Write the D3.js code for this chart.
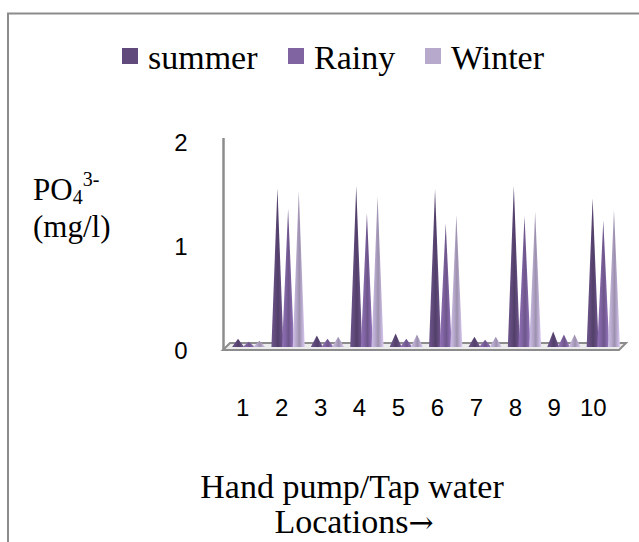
<!DOCTYPE html>
<html>
<head>
<meta charset="utf-8">
<script src="https://cdn.jsdelivr.net/npm/d3@7"></script>
<style>
  html, body { margin: 0; padding: 0; background: #fff; }
  svg { display: block; }
</style>
</head>
<body>
<svg id="chart" width="639" height="542"></svg>
<script>
// ---- data ----
const locations = ["1", "2", "3", "4", "5", "6", "7", "8", "9", "10"];
const seriesNames = ["summer", "Rainy", "Winter"];
const summer = [0.07, 1.52, 0.10, 1.54, 0.12, 1.51, 0.09, 1.54, 0.14, 1.42];
const rainy  = [0.04, 1.32, 0.07, 1.28, 0.07, 1.18, 0.06, 1.25, 0.11, 1.21];
const winter = [0.05, 1.49, 0.09, 1.44, 0.11, 1.26, 0.09, 1.29, 0.11, 1.31];
const yTicks = [0, 1, 2];
const seriesColors = ["#604a7b", "#8064a2", "#b7a9cc"];

const values = [summer, rainy, winter];

const svg = d3.select("#chart");

// ---- scales ----
const x = d3.scaleBand().domain(locations).range([229, 623]).padding(0);
const inner = d3.scaleBand().domain(seriesNames).range([-16, 16]).padding(0);
const y = d3.scaleLinear().domain([0, 2]).range([350, 142]);
const depthDy = -4;   // cones sit slightly behind the front edge

// ---- frame ----
svg.append("path")
  .attr("d", "M8,542 L8,13.5 L639,13.5")
  .attr("fill", "none").attr("stroke", "#8c8c8c").attr("stroke-width", 2);

// ---- gradients ----
const defs = svg.append("defs");
seriesColors.forEach((c, i) => {
  const base = d3.color(c);
  const g = defs.append("linearGradient").attr("id", "g" + i)
    .attr("x1", "0").attr("x2", "1").attr("y1", "0").attr("y2", "0");
  g.append("stop").attr("offset", "0%").attr("stop-color", base.brighter(0.35));
  g.append("stop").attr("offset", "30%").attr("stop-color", base.formatHex());
  g.append("stop").attr("offset", "55%").attr("stop-color", base.darker(0.45));
  g.append("stop").attr("offset", "100%").attr("stop-color", base.brighter(0.5));
});

// ---- wall & floor ----
svg.append("line")
  .attr("x1", 223.5).attr("x2", 223.5).attr("y1", 138).attr("y2", 350)
  .attr("stroke", "#8c8c8c").attr("stroke-width", 2.5);
svg.append("path")
  .attr("d", "M223,350 L230,343 L626,343 L619,350 Z")
  .attr("fill", "#ececec").attr("stroke", "#8c8c8c").attr("stroke-width", 2);

// ---- cones ----
const coneW = 12;
const coneBase = y(0) + depthDy + 1;
seriesNames.forEach((s, si) => {
  const gSer = svg.append("g");
  gSer.selectAll("path")
    .data(locations.map((loc, li) => ({ loc, v: values[si][li] })))
    .join("path")
    .attr("d", d => {
      const cx = x(d.loc) + x.bandwidth() / 2 + inner(s) + inner.bandwidth() / 2;
      const tip = y(d.v) + depthDy;
      return `M${cx - coneW / 2},${coneBase} L${cx},${tip} L${cx + coneW / 2},${coneBase} Z`;
    })
    .attr("fill", `url(#g${si})`);
});

// ---- y tick labels ----
svg.append("g").selectAll("text").data(yTicks).join("text")
  .attr("x", 181).attr("y", d => y(d))
  .attr("text-anchor", "middle").attr("dominant-baseline", "central")
  .attr("font-family", "'Liberation Sans', Arial, sans-serif")
  .attr("font-size", 24).attr("fill", "#000")
  .text(d => d);

// ---- x tick labels ----
svg.append("g").selectAll("text").data(locations).join("text")
  .attr("x", d => x(d) + x.bandwidth() / 2 - 6 - locations.indexOf(d) * 0.45)
  .attr("y", 416)
  .attr("text-anchor", "middle")
  .attr("font-family", "'Liberation Sans', Arial, sans-serif")
  .attr("font-size", 24).attr("fill", "#000")
  .text(d => d);

// ---- legend ----
const legendX = [122, 288, 425];
const lg = svg.append("g");
seriesNames.forEach((s, i) => {
  lg.append("rect").attr("x", legendX[i]).attr("y", 48).attr("width", 16).attr("height", 16)
    .attr("fill", seriesColors[i]);
  lg.append("text").attr("x", legendX[i] + 26).attr("y", 69)
    .attr("font-family", "'Liberation Serif', 'Times New Roman', serif")
    .attr("font-size", 34).attr("fill", "#000").text(s);
});

// ---- y axis title ----
const serif = "'Liberation Serif', 'Times New Roman', serif";
const yt = svg.append("text").attr("x", 33).attr("y", 200)
  .attr("font-family", serif).attr("font-size", 31).attr("fill", "#000");
yt.append("tspan").text("PO");
yt.append("tspan").attr("font-size", 20).attr("dy", 4).text("4");
yt.append("tspan").attr("font-size", 20).attr("dy", -18).text("3-");
svg.append("text").attr("x", 33).attr("y", 237)
  .attr("font-family", serif).attr("font-size", 31).attr("fill", "#000")
  .text("(mg/l)");

// ---- x axis title ----
svg.append("text").attr("x", 352).attr("y", 498).attr("text-anchor", "middle")
  .attr("font-family", serif).attr("font-size", 34).attr("fill", "#000")
  .text("Hand pump/Tap water");
const lt = svg.append("text").attr("x", 354).attr("y", 533).attr("text-anchor", "middle")
  .attr("font-family", serif).attr("font-size", 34).attr("fill", "#000");
lt.append("tspan").text("Locations");
lt.append("tspan").attr("font-family", "'DejaVu Serif', serif").attr("font-size", 30).text("→");
</script>
</body>
</html>
